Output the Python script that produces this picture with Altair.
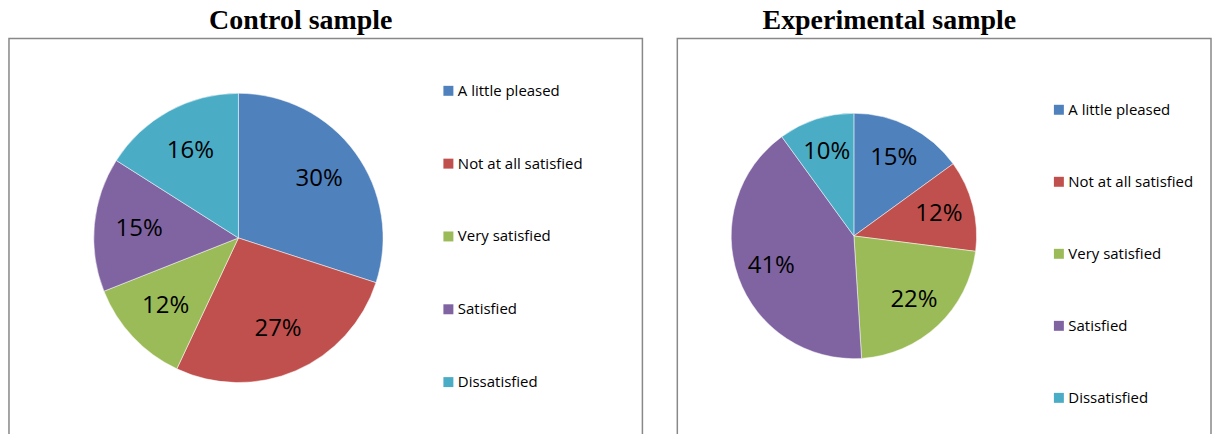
import altair as alt
import pandas as pd

categories = ["A little pleased", "Not at all satisfied", "Very satisfied", "Satisfied", "Dissatisfied"]
control_values = [30, 27, 12, 15, 16]
experimental_values = [15, 12, 22, 41, 10]
colors = ["#4F81BD", "#C0504D", "#9BBB59", "#8064A2", "#4BACC6"]
titles = ["Control sample", "Experimental sample"]


def panel(values, title, w, h, cx, cy, r, label_r, legend_x, legend_y, row_pad, title_dx):
    df = pd.DataFrame({
        "category": categories,
        "value": values,
        "order": list(range(len(categories))),
        "label": [f"{v}%" for v in values],
    })
    base = alt.Chart(df).encode(
        theta=alt.Theta("value:Q", stack=True),
        order=alt.Order("order:Q"),
    )
    arcs = base.mark_arc(outerRadius=r, stroke="white", strokeWidth=0.5).encode(
        x=alt.value(cx),
        y=alt.value(cy),
        color=alt.Color(
            "category:N",
            scale=alt.Scale(domain=categories, range=colors),
            legend=alt.Legend(
                title=None,
                orient="none",
                legendX=legend_x,
                legendY=legend_y,
                symbolType="square",
                symbolSize=100,
                symbolStrokeWidth=0,
                labelFont="Open Sans",
                labelFontSize=15,
                labelColor="black",
                labelOffset=2,
                rowPadding=row_pad,
                padding=0,
            ),
        ),
    )
    texts = base.mark_text(radius=label_r, font="Open Sans", fontSize=24, color="black").encode(
        x=alt.value(cx),
        y=alt.value(cy),
        text="label:N",
    )
    return alt.layer(arcs, texts).properties(
        width=w,
        height=h,
        title=alt.TitleParams(title, dx=title_dx),
    )


left = panel(control_values, titles[0], 635, 399, 230, 200, 145, 100, 433, 45, 57, -25)
right = panel(experimental_values, titles[1], 535, 399, 177, 198, 123, 88, 375, 64, 56.2, -55)

chart = (
    alt.hconcat(left, right, spacing=33)
    .resolve_scale(color="independent")
    .properties(padding={"left": 8, "top": 6, "right": 0, "bottom": 0})
    .configure_view(stroke="#888888", strokeWidth=1.5)
    .configure_title(font="Liberation Serif", fontSize=28, fontWeight="bold", color="black", offset=3)
)

chart.save("out.html", embed_options={"renderer": "svg", "actions": False})
